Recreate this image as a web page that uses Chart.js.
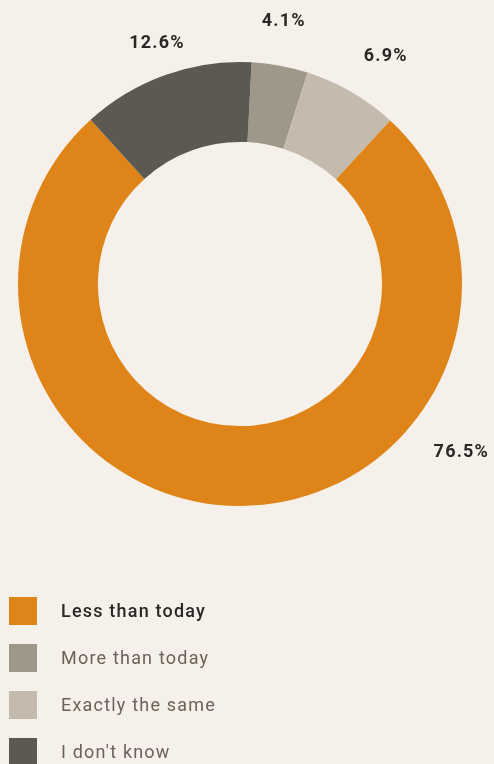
<!DOCTYPE html>
<html>
<head>
<meta charset="utf-8">
<script src="https://cdn.jsdelivr.net/npm/chart.js@4"></script>
<style>
  html, body { margin: 0; padding: 0; background: #f5f0ea; }
  #wrap { position: relative; width: 494px; height: 764px; }
</style>
</head>
<body>
<div id="wrap"><canvas id="c" width="494" height="764"></canvas></div>
<script>
// Answers, in the order they sit clockwise round the ring
const categories = ['More than today', 'Exactly the same', 'Less than today', "I don't know"];
const shares = [4.1, 6.9, 76.5, 12.6];
// Order in which the key lists them
const legendOrder = [2, 0, 1, 3];

const sliceColors = ['#a0978b', '#c4bbae', '#df8419', '#5c5952'];

// Percentage labels set just outside the ring
const outerLabels = {
  id: 'outerLabels',
  afterDatasetsDraw(chart, args, opts) {
    const ctx = chart.ctx;
    const meta = chart.getDatasetMeta(0);
    ctx.save();
    ctx.font = opts.font;
    ctx.fillStyle = opts.color;
    ctx.textAlign = 'center';
    ctx.textBaseline = 'middle';
    if ('letterSpacing' in ctx) ctx.letterSpacing = opts.letterSpacing;
    meta.data.forEach((arc, i) => {
      const p = arc.getProps(['x', 'y', 'startAngle', 'endAngle', 'outerRadius'], true);
      const place = opts.placement[i];
      const a = (p.startAngle + p.endAngle) / 2 + place.shift * Math.PI / 180;
      const r = p.outerRadius + place.gap;
      const v = chart.data.datasets[0].data[i];
      ctx.fillText(v.toFixed(1) + '%', p.x + r * Math.cos(a), p.y + r * Math.sin(a));
    });
    ctx.restore();
  }
};

// Key stacked one entry per row under the ring
const stackedKey = {
  id: 'stackedKey',
  afterDraw(chart, args, opts) {
    const ctx = chart.ctx;
    const ds = chart.data.datasets[0];
    ctx.save();
    ctx.textAlign = 'left';
    ctx.textBaseline = 'middle';
    if ('letterSpacing' in ctx) ctx.letterSpacing = opts.letterSpacing;
    opts.order.forEach((idx, row) => {
      const cy = opts.top + row * opts.rowGap;
      ctx.fillStyle = ds.backgroundColor[idx];
      ctx.fillRect(opts.left, cy - opts.box / 2, opts.box, opts.box);
      const first = row === 0;
      ctx.font = first ? opts.strongFont : opts.font;
      ctx.fillStyle = first ? opts.strongColor : opts.color;
      ctx.fillText(chart.data.labels[idx], opts.textLeft, cy + 1);
    });
    ctx.restore();
  }
};

new Chart(document.getElementById('c'), {
  type: 'doughnut',
  data: {
    labels: categories,
    datasets: [{
      data: shares,
      backgroundColor: sliceColors,
      borderWidth: 0,
      hoverOffset: 0
    }]
  },
  options: {
    responsive: false,
    animation: false,
    cutout: '64%',
    rotation: 3,
    layout: { padding: { left: 18, right: 32, top: 62, bottom: 258 } },
    plugins: {
      legend: { display: false },
      tooltip: { enabled: false },
      outerLabels: {
        font: '700 18px Roboto',
        color: '#2a2724',
        letterSpacing: '1.2px',
        placement: [
          { shift: -0.9, gap: 44 },
          { shift: 2.5, gap: 48 },
          { shift: -52.9, gap: 56 },
          { shift: 0.6, gap: 32 }
        ]
      },
      stackedKey: {
        order: legendOrder,
        left: 9,
        top: 611,
        rowGap: 47,
        box: 28,
        textLeft: 61,
        font: '400 18px Roboto',
        strongFont: '500 18px Roboto',
        color: '#6e6256',
        strongColor: '#2a2724',
        letterSpacing: '1.2px'
      }
    }
  },
  plugins: [outerLabels, stackedKey]
});
</script>
</body>
</html>
